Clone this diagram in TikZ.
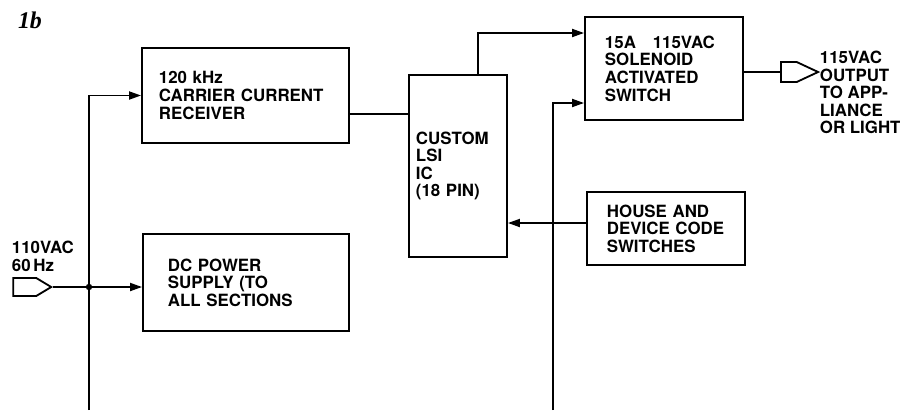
\documentclass[tikz,border=0pt]{standalone}
\usepackage{fontspec}
\setmainfont{TeX Gyre Heros}
\newfontfamily\figfont{Liberation Serif}
\usetikzlibrary{arrows.meta,shapes.symbols}

\begin{document}
\begin{tikzpicture}[x=0.025cm,y=-0.025cm,line width=1.3pt,
  every node/.style={font=\bfseries\fontsize{12}{12.5}\selectfont},
  blockbox/.style={draw,align=left,inner ysep=0pt,inner xsep=0.6cm},
  sig/.style={-{Triangle[length=0.3cm,width=0.2cm]}},
  plug/.style={draw,shape=signal,signal to=east,inner sep=0pt}]
\useasboundingbox (0,0) rectangle (900,410);

\node[font=\figfont\bfseries\itshape\fontsize{17}{18}\selectfont] (fig) at (30,20) {1b};

\node[blockbox,inner xsep=0.425cm,text width=4.325cm,minimum height=2.375cm] (rx) at (245.5,95.5) {120 kHz\\ CARRIER CURRENT\\ RECEIVER};
\node[blockbox,inner xsep=0.625cm,text width=3.9cm,minimum height=2.425cm] (dc) at (246,282.5) {DC POWER\\ SUPPLY (TO\\ ALL SECTIONS};
\node[blockbox,inner xsep=0.175cm,text width=2.1cm,minimum height=4.55cm] (lsi) at (458,166) {CUSTOM\\ LSI\\ IC\\ (18 PIN)};
\node[blockbox,inner xsep=0.5cm,text width=2.95cm,minimum height=2.575cm] (sol) at (664,68.5) {15A\quad 115VAC\\ SOLENOID\\ ACTIVATED\\ SWITCH};
\node[blockbox,inner xsep=0.5cm,text width=2.95cm,minimum height=1.825cm] (hs) at (666,228.5) {HOUSE AND\\ DEVICE CODE\\ SWITCHES};

\node[plug,signal pointer angle=62,minimum width=0.95cm,minimum height=0.45cm,anchor=east] (ac) at (53,287) {};
\node[plug,signal pointer angle=50,minimum width=0.93cm,minimum height=0.5cm,anchor=west] (out) at (780,72) {};

\node[align=left,anchor=north west,inner sep=0pt] (aclbl) at (11,240) {110VAC\\ 60\,Hz};
\node[align=left,anchor=north west,inner sep=0pt] (outlbl) at (819,50) {115VAC\\ OUTPUT\\ TO APP-\\ LIANCE\\ OR LIGHT};

\coordinate (jn) at (89,287);
\coordinate (bl) at (89,410);
\coordinate (br) at (553,410);
\coordinate (rxo) at ([yshift=-0.46cm]rx.east);
\coordinate (lsio) at ([xshift=0.5cm]lsi.north);
\coordinate (solin) at (lsio |- 0,33);
\coordinate (solsw) at (br |- 0,103);
\coordinate (hso) at (hs.west |- 0,223);

\draw (ac.east) -- (jn);
\draw[sig] (jn) -- (jn -| dc.west);
\draw[sig] (bl) |- (rx.west);
\fill (jn) circle (0.08cm);
\draw (rxo) -- (rxo -| lsi.west);
\draw[sig] (lsio) |- (solin -| sol.west);
\draw[sig] (br) |- (solsw -| sol.west);
\draw[sig] (hso) -- (hso -| lsi.east);
\draw (out.west -| sol.east) -- (out.west);
\end{tikzpicture}
\end{document}
